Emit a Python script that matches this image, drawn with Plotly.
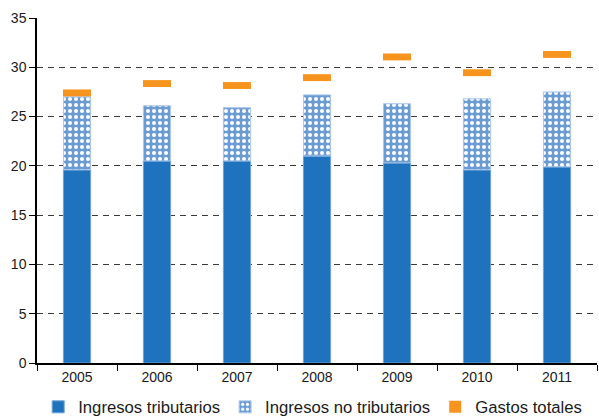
import plotly.graph_objects as go

_FONT = "Liberation Sans, Arial, sans-serif"
_BLUE = "#1f72bd"
_BLUE_LIGHT = "#6a9bd3"
_ORANGE = "#f7941d"

years = ["2005", "2006", "2007", "2008", "2009", "2010", "2011"]
ingresos_tributarios = [19.6, 20.5, 20.5, 21.0, 20.3, 19.6, 19.9]
ingresos_no_tributarios = [7.4, 5.6, 5.4, 6.2, 6.0, 7.2, 7.6]
gastos_totales = [27.4, 28.35, 28.15, 28.95, 31.05, 29.45, 31.3]

GASTO_MARK = 0.7  # height of the orange tick, in axis units


def fig_ingresos_gastos() -> go.Figure:
    """Stacked revenue bars with total spending shown as a short orange tick."""
    fig = go.Figure()
    fig.add_bar(
        x=years,
        y=ingresos_tributarios,
        name="Ingresos tributarios",
        width=0.34,
        marker={"color": _BLUE, "line": {"color": "#6fa3d8", "width": 1}},
    )
    fig.add_bar(
        x=years,
        y=ingresos_no_tributarios,
        base=ingresos_tributarios,
        name="Ingresos no tributarios",
        width=0.34,
        marker={
            "color": _BLUE_LIGHT,
            "line": {"color": "#a9c6e8", "width": 1},
            "pattern": {
                "shape": ".",
                "fgcolor": "white",
                "bgcolor": _BLUE_LIGHT,
                "size": 6,
                "solidity": 0.35,
                "fillmode": "replace",
            },
        },
    )
    fig.add_bar(
        x=years,
        y=[GASTO_MARK] * len(years),
        base=[g - GASTO_MARK / 2 for g in gastos_totales],
        name="Gastos totales",
        width=0.35,
        marker={"color": _ORANGE, "line": {"width": 0}},
    )
    fig.update_layout(
        barmode="overlay",
        width=599,
        height=417,
        margin={"l": 37, "r": 2, "t": 18, "b": 54, "autoexpand": False},
        paper_bgcolor="white",
        plot_bgcolor="white",
        font={"family": _FONT, "size": 14, "color": "#1a1a1a"},
        showlegend=True,
        legend={
            "orientation": "h",
            "x": 0.522,
            "xanchor": "center",
            "xref": "container",
            "y": 0.024,
            "yanchor": "middle",
            "yref": "container",
            "font": {"size": 16.7},
            "itemwidth": 30,
            "traceorder": "normal",
        },
    )
    fig.update_xaxes(
        type="category",
        automargin=False,
        showline=True,
        linecolor="black",
        linewidth=1.5,
        ticks="outside",
        tickson="boundaries",
        ticklen=6,
        tickcolor="black",
        showgrid=False,
        tickfont={"size": 14},
    )
    fig.update_yaxes(
        range=[0, 35],
        dtick=5,
        automargin=False,
        showline=True,
        linecolor="black",
        linewidth=1.5,
        ticks="outside",
        ticklen=6,
        tickcolor="black",
        showgrid=True,
        gridcolor="#3a3a3a",
        griddash="6px,5px",
        gridwidth=1,
        zeroline=False,
        tickfont={"size": 14},
    )
    return fig


fig = fig_ingresos_gastos()
# the page body has a default 8px margin; drop it so the figure sits at 0,0
fig.write_html(
    "out.html",
    config={"displayModeBar": False},
    post_script="document.body.style.margin = '0';",
)
